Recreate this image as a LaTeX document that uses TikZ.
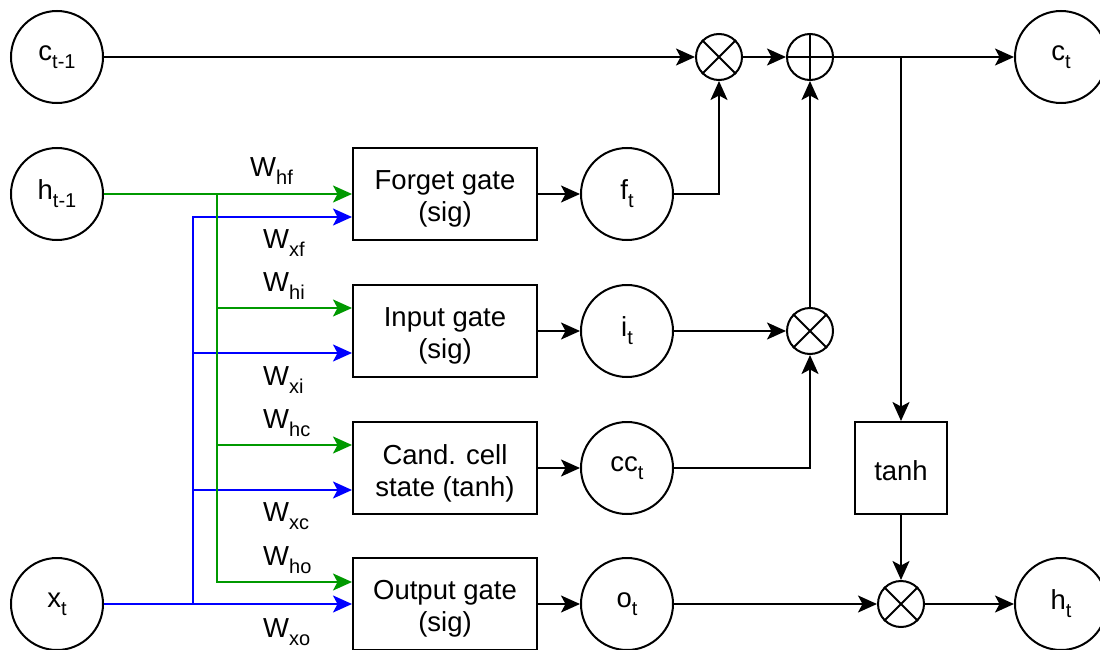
\documentclass[tikz,border=0pt]{standalone}
\usepackage{fontspec}
\setmainfont{Liberation Sans}
\usetikzlibrary{arrows.meta}
\newcommand\lsub[1]{\raisebox{-8pt}{\fontsize{20}{22}\selectfont #1}}
\definecolor{wgreen}{RGB}{0,153,0}
\definecolor{wblue}{RGB}{0,0,255}
\tikzset{
  lw/.style={line width=2pt},
  varc/.style={circle, draw, lw, minimum size=92pt, inner sep=0pt, font=\fontsize{27.5}{31}\selectfont},
  opc/.style={circle, draw, lw, minimum size=46pt, inner sep=0pt},
  gatebox/.style={rectangle, draw, lw, minimum width=184pt, minimum height=92pt, inner sep=0pt},
  gtext/.style={align=center, inner sep=0pt, yshift=-5pt, font=\fontsize{27.5}{32}\selectfont},
  conn/.style={lw, -{Stealth[length=19pt,width=17pt,inset=4.5pt]}},
  line/.style={lw},
  wlabel/.style={anchor=base west, inner sep=0pt, font=\fontsize{27.5}{31}\selectfont},
}
\begin{document}
\begin{tikzpicture}[x=1pt,y=-1pt]
\useasboundingbox (0,0) rectangle (1100,650);
\clip (0,0) rectangle (1100,650);
% input / output variables
\node[varc] (cprev) at (57,57) {c\lsub{t-1}};
\node[varc] (hprev) at (57,194) {h\lsub{t-1}};
\node[varc] (xt) at (57,604) {x\lsub{t}};
\node[varc] (ct) at (1061,57) {c\lsub{t}};
\node[varc] (ht) at (1061,604) {h\lsub{t}};
% gates
\node[gatebox, label={[gtext]center:Forget gate\\(sig)}] (fg) at (445,194) {};
\node[gatebox, label={[gtext]center:Input gate\\(sig)}] (ig) at (445,331) {};
\node[gatebox, label={[gtext]center:Cand. cell\\state (tanh)}] (cg) at (445,468) {};
\node[gatebox, label={[gtext]center:Output gate\\(sig)}] (og) at (445,604) {};
% gate outputs
\node[varc] (f) at (627,194) {f\lsub{t}};
\node[varc] (i) at (627,331) {i\lsub{t}};
\node[varc] (cc) at (627,468) {cc\lsub{t}};
\node[varc] (o) at (627,604) {o\lsub{t}};
% operators
\node[opc] (m1) at (719,57) {};
\node[opc] (pl) at (810,57) {};
\node[opc] (m2) at (810,331) {};
\node[opc] (m3) at (901,604) {};
\draw[line] (m1.north west) -- (m1.south east) (m1.north east) -- (m1.south west);
\draw[line] (m2.north west) -- (m2.south east) (m2.north east) -- (m2.south west);
\draw[line] (m3.north west) -- (m3.south east) (m3.north east) -- (m3.south west);
\draw[line] (pl.north) -- (pl.south) (pl.west) -- (pl.east);
\node[gatebox, minimum width=92pt, minimum height=92pt, label={[gtext, yshift=2.5pt]center:tanh}] (th) at (901,468) {};
% branch coordinates
\coordinate (gtop) at (217,194);
\coordinate (g2) at (217,308);
\coordinate (g3) at (217,445);
\coordinate (g4) at (217,582);
\coordinate (b1) at (193,217);
\coordinate (b2) at (193,353);
\coordinate (b3) at (193,490);
\coordinate (b4) at (193,604);
\coordinate (br) at (901,57);
% blue (x_t) connectors
\draw[conn, wblue] (xt.east) -- (og.west);
\draw[conn, wblue] (b4) -- (b1) -- (b1 -| fg.west);
\draw[conn, wblue] (b2) -- (b2 -| ig.west);
\draw[conn, wblue] (b3) -- (b3 -| cg.west);
% green (h_{t-1}) connectors
\draw[conn, wgreen] (hprev.east) -- (fg.west);
\draw[conn, wgreen] (gtop) -- (g4) -- (g4 -| og.west);
\draw[conn, wgreen] (g2) -- (g2 -| ig.west);
\draw[conn, wgreen] (g3) -- (g3 -| cg.west);
% weight labels
\node[wlabel] (whf) at (250,176.7) {W\lsub{hf}};
\node[wlabel] (wxf) at (263,248.3) {W\lsub{xf}};
\node[wlabel] (whi) at (263,291.7) {W\lsub{hi}};
\node[wlabel] (wxi) at (263,385) {W\lsub{xi}};
\node[wlabel] (whc) at (263,428.4) {W\lsub{hc}};
\node[wlabel] (wxc) at (263,521.6) {W\lsub{xc}};
\node[wlabel] (who) at (263,565.5) {W\lsub{ho}};
\node[wlabel] (wxo) at (263,637) {W\lsub{xo}};
% gate -> output
\draw[conn] (fg.east) -- (f.west);
\draw[conn] (ig.east) -- (i.west);
\draw[conn] (cg.east) -- (cc.west);
\draw[conn] (og.east) -- (o.west);
% cell state path
\draw[conn] (cprev.east) -- (m1.west);
\draw[conn] (m1.east) -- (pl.west);
\draw[conn] (pl.east) -- (ct.west);
\draw[conn] (f.east) -| (m1.south);
\draw[conn] (i.east) -- (m2.west);
\draw[conn] (cc.east) -| (m2.south);
\draw[conn] (m2.north) -- (pl.south);
\draw[conn] (br) -- (th.north);
\draw[conn] (th.south) -- (m3.north);
\draw[conn] (o.east) -- (m3.west);
\draw[conn] (m3.east) -- (ht.west);
\end{tikzpicture}
\end{document}
